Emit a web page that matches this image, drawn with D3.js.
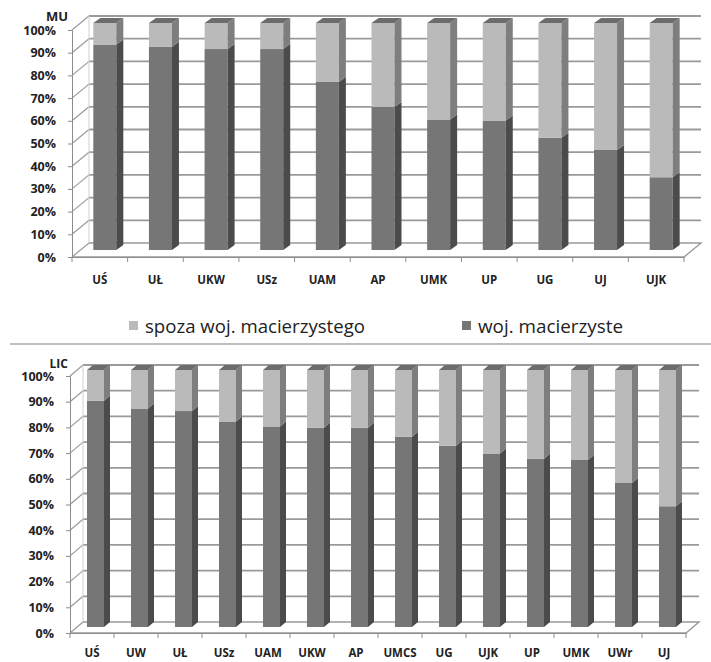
<!DOCTYPE html>
<html>
<head>
<meta charset="utf-8">
<script src="https://cdn.jsdelivr.net/npm/d3@7"></script>
<style>
  html, body { margin: 0; padding: 0; background: #ffffff; }
  svg { display: block; }
</style>
</head>
<body>
<svg id="chart" width="711" height="662"></svg>
<script>
// ---------- DATA ----------
const muCategories = ["UŚ", "UŁ", "UKW", "USz", "UAM", "AP", "UMK", "UP", "UG", "UJ", "UJK"];
const muHome    = [90.5, 89.5, 88.5, 88.5, 74, 63, 57.5, 57, 49.5, 44, 32];
const muOutside = [9.5, 10.5, 11.5, 11.5, 26, 37, 42.5, 43, 50.5, 56, 68];

const licCategories = ["UŚ", "UW", "UŁ", "USz", "UAM", "UKW", "AP", "UMCS", "UG", "UJK", "UP", "UMK", "UWr", "UJ"];
const licHome    = [88, 85, 84, 80, 78, 77.5, 77.5, 74, 70.5, 67.5, 65.5, 65, 56, 47];
const licOutside = [12, 15, 16, 20, 22, 22.5, 22.5, 26, 29.5, 32.5, 34.5, 35, 44, 53];

const yTicks = [0, 10, 20, 30, 40, 50, 60, 70, 80, 90, 100];
const seriesNames = ["spoza woj. macierzystego", "woj. macierzyste"];

// ---------- STYLE ----------
const colors = {
  home:    { front: "#767676", side: "#4b4b4b", top: "#6a6a6a" },
  outside: { front: "#bababa", side: "#7e7e7e", top: "#6c6c6c" },
  grid: "#9a9a9a",
  axis: "#8c8c8c",
  text: "#222222"
};

const svg = d3.select("#chart");

function drawChart(cfg) {
  const g = svg.append("g");
  const x = d3.scaleBand().domain(cfg.categories).range([cfg.x0, cfg.x1]).padding(0);
  const y = d3.scaleLinear().domain([0, 100]).range([cfg.yBottom, cfg.yTop]);
  const dx = cfg.dx, dy = cfg.dy;

  // back wall gridlines
  g.selectAll("line.grid").data(yTicks.filter(d => d > 0)).enter().append("line")
    .attr("x1", cfg.x0 + dx).attr("x2", cfg.x1 + dx)
    .attr("y1", d => y(d) + dy).attr("y2", d => y(d) + dy)
    .attr("stroke", colors.grid).attr("stroke-width", 1.8);
  // side wall slanted lines
  g.selectAll("line.side").data(yTicks).enter().append("line")
    .attr("x1", cfg.x0).attr("x2", cfg.x0 + dx)
    .attr("y1", d => y(d)).attr("y2", d => y(d) + dy)
    .attr("stroke", colors.grid).attr("stroke-width", 1.2);
  // back wall left edge
  g.append("line")
    .attr("x1", cfg.x0 + dx).attr("x2", cfg.x0 + dx)
    .attr("y1", y(100) + dy).attr("y2", y(0) + dy)
    .attr("stroke", "#d0d0d0").attr("stroke-width", 1);
  // floor
  g.append("path")
    .attr("d", `M${cfg.x0},${y(0)}L${cfg.x1},${y(0)}L${cfg.x1 + dx},${y(0) + dy}L${cfg.x0 + dx},${y(0) + dy}`)
    .attr("fill", "none").attr("stroke", colors.grid).attr("stroke-width", 1.4);

  // left axis
  const yAxis = d3.axisLeft(y).tickValues(yTicks).tickFormat(d => d + "%").tickSize(4).tickPadding(cfg.tickPad);
  const ya = g.append("g").attr("transform", `translate(${cfg.x0},0)`).call(yAxis);
  ya.select(".domain").attr("stroke", colors.axis);
  ya.selectAll(".tick line").attr("stroke", colors.axis);
  ya.selectAll(".tick text")
    .attr("font-family", "'Open Sans', 'Liberation Sans', sans-serif")
    .attr("font-weight", "bold").attr("font-size", cfg.yFont).attr("fill", colors.text);

  // bottom axis (labels) + ticks between categories
  const xAxis = d3.axisBottom(x).tickSize(0).tickPadding(cfg.xPad);
  const xa = g.append("g").attr("transform", `translate(0,${y(0)})`).call(xAxis);
  xa.select(".domain").attr("stroke", colors.axis);
  xa.selectAll(".tick text")
    .attr("font-family", "'Open Sans', 'Liberation Sans', sans-serif")
    .attr("font-weight", "bold").attr("font-size", cfg.xFont).attr("fill", colors.text);
  const bounds = cfg.categories.map(c => x(c)).concat([cfg.x1]);
  g.selectAll("line.xt").data(bounds).enter().append("line")
    .attr("x1", d => d).attr("x2", d => d)
    .attr("y1", y(0)).attr("y2", y(0) + 5)
    .attr("stroke", colors.axis);

  // title
  g.append("text").attr("x", cfg.titleX).attr("y", cfg.titleY)
    .attr("text-anchor", "end")
    .attr("font-family", "'Open Sans', 'Liberation Sans', sans-serif")
    .attr("font-weight", "bold").attr("font-size", cfg.titleFont).attr("fill", colors.text)
    .text(cfg.title);

  // bars
  const bw = cfg.barW, bdx = cfg.barDx, bdy = cfg.barDy;
  const poly = pts => "M" + pts.map(p => p.join(",")).join("L") + "Z";
  cfg.categories.forEach((c, i) => {
    const left = x(c) + x.bandwidth() / 2 + cfg.barOff;
    const yb = y(0) + cfg.barShiftY;
    const yh = y(cfg.home[i]) + cfg.barShiftY;
    const yt = y(cfg.home[i] + cfg.outside[i]) + cfg.barShiftY;
    const bg = g.append("g");
    // home segment
    bg.append("path").attr("d", poly([[left, yb], [left + bw, yb], [left + bw, yh], [left, yh]]))
      .attr("fill", colors.home.front);
    bg.append("path").attr("d", poly([[left + bw, yb], [left + bw + bdx, yb + bdy], [left + bw + bdx, yh + bdy], [left + bw, yh]]))
      .attr("fill", colors.home.side);
    // outside segment
    bg.append("path").attr("d", poly([[left, yh], [left + bw, yh], [left + bw, yt], [left, yt]]))
      .attr("fill", colors.outside.front);
    bg.append("path").attr("d", poly([[left + bw, yh], [left + bw + bdx, yh + bdy], [left + bw + bdx, yt + bdy], [left + bw, yt]]))
      .attr("fill", colors.outside.side);
    // top
    bg.append("path").attr("d", poly([[left, yt], [left + bw, yt], [left + bw + bdx, yt + bdy], [left + bdx, yt + bdy]]))
      .attr("fill", colors.outside.top);
  });
}

drawChart({
  categories: muCategories, home: muHome, outside: muOutside,
  x0: 72, x1: 684, yBottom: 257, yTop: 30, dx: 17, dy: -14,
  barW: 23, barDx: 7, barDy: -5, barOff: -6.5, barShiftY: -7,
  tickPad: 12, yFont: 12.5, xPad: 19, xFont: 11.5,
  title: "MU", titleX: 68, titleY: 21, titleFont: 13
});

drawChart({
  categories: licCategories, home: licHome, outside: licOutside,
  x0: 70, x1: 686, yBottom: 633, yTop: 376, dx: 13, dy: -11,
  barW: 17, barDx: 6, barDy: -5, barOff: -5, barShiftY: -6,
  tickPad: 12, yFont: 12.5, xPad: 16, xFont: 11.5,
  title: "LIC", titleX: 68, titleY: 368, titleFont: 12
});

// legend
const legend = svg.append("g");
const legendItems = [
  { name: seriesNames[0], color: colors.outside.front, x: 129 },
  { name: seriesNames[1], color: colors.home.front, x: 462 }
];
legendItems.forEach(d => {
  legend.append("rect").attr("x", d.x).attr("y", 321).attr("width", 9).attr("height", 9).attr("fill", d.color);
  legend.append("text").attr("x", d.x + 16).attr("y", 333)
    .attr("font-family", "'Open Sans', 'Liberation Sans', sans-serif")
    .attr("font-size", 18.5).attr("textLength", d.x === 129 ? 220 : 145)
    .attr("lengthAdjust", "spacingAndGlyphs")
    .attr("fill", colors.text).text(d.name);
});

// separator between the two panels
svg.append("line").attr("x1", 10).attr("x2", 711).attr("y1", 344).attr("y2", 344)
  .attr("stroke", "#a8a8a8").attr("stroke-width", 1.5);
</script>
</body>
</html>
